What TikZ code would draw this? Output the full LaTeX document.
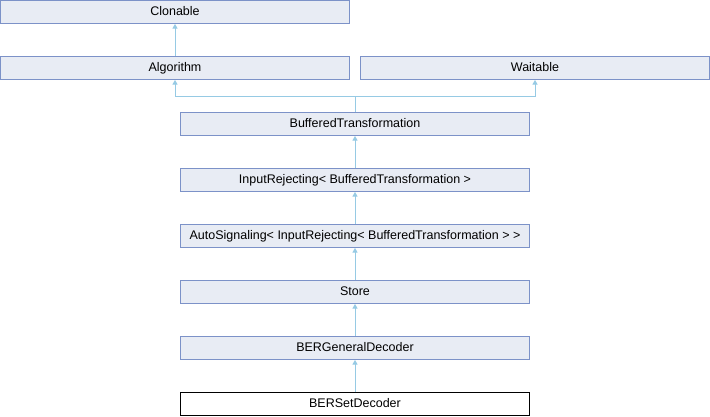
\documentclass[tikz,border=0pt]{standalone}
\usepackage{fontspec}
\setmainfont{Liberation Sans}
\usetikzlibrary{arrows.meta}
\definecolor{boxfill}{RGB}{232,236,244}
\definecolor{boxdraw}{RGB}{124,146,200}
\definecolor{edgecol}{RGB}{150,202,228}
\begin{document}
\begin{tikzpicture}[x=1pt,y=-1pt,
  cls/.style={draw=boxdraw,fill=boxfill,line width=1pt,rectangle,minimum width=349pt,minimum height=23pt,inner sep=0pt,text height=9pt,text depth=2.5pt,font=\fontsize{12.5}{14}\selectfont},
  cur/.style={cls,draw=black,fill=white},
  inh/.style={draw=edgecol,line width=1pt,-{Triangle[length=4.5pt,width=5pt]}}]
\useasboundingbox (0,0) rectangle (710,416);
\node[cls] (clon) at (175,12) {Clonable};
\node[cls] (alg) at (175,68) {Algorithm};
\node[cls] (wait) at (535,68) {Waitable};
\node[cls] (bt) at (355,124) {BufferedTransformation};
\node[cls] (ir) at (355,180) {InputRejecting< BufferedTransformation >};
\node[cls] (as) at (355,236) {AutoSignaling< InputRejecting< BufferedTransformation > >};
\node[cls] (st) at (355,292) {Store};
\node[cls] (bgd) at (355,348) {BERGeneralDecoder};
\node[cur] (bsd) at (355,404) {BERSetDecoder};
\coordinate (j) at (355,96);
\draw[inh] (alg) -- (clon);
\draw[draw=edgecol,line width=1pt] (bt) -- (j);
\draw[inh] (j) -| (alg);
\draw[inh] (j) -| (wait);
\draw[inh] (ir) -- (bt);
\draw[inh] (as) -- (ir);
\draw[inh] (st) -- (as);
\draw[inh] (bgd) -- (st);
\draw[inh] (bsd) -- (bgd);
\end{tikzpicture}
\end{document}
